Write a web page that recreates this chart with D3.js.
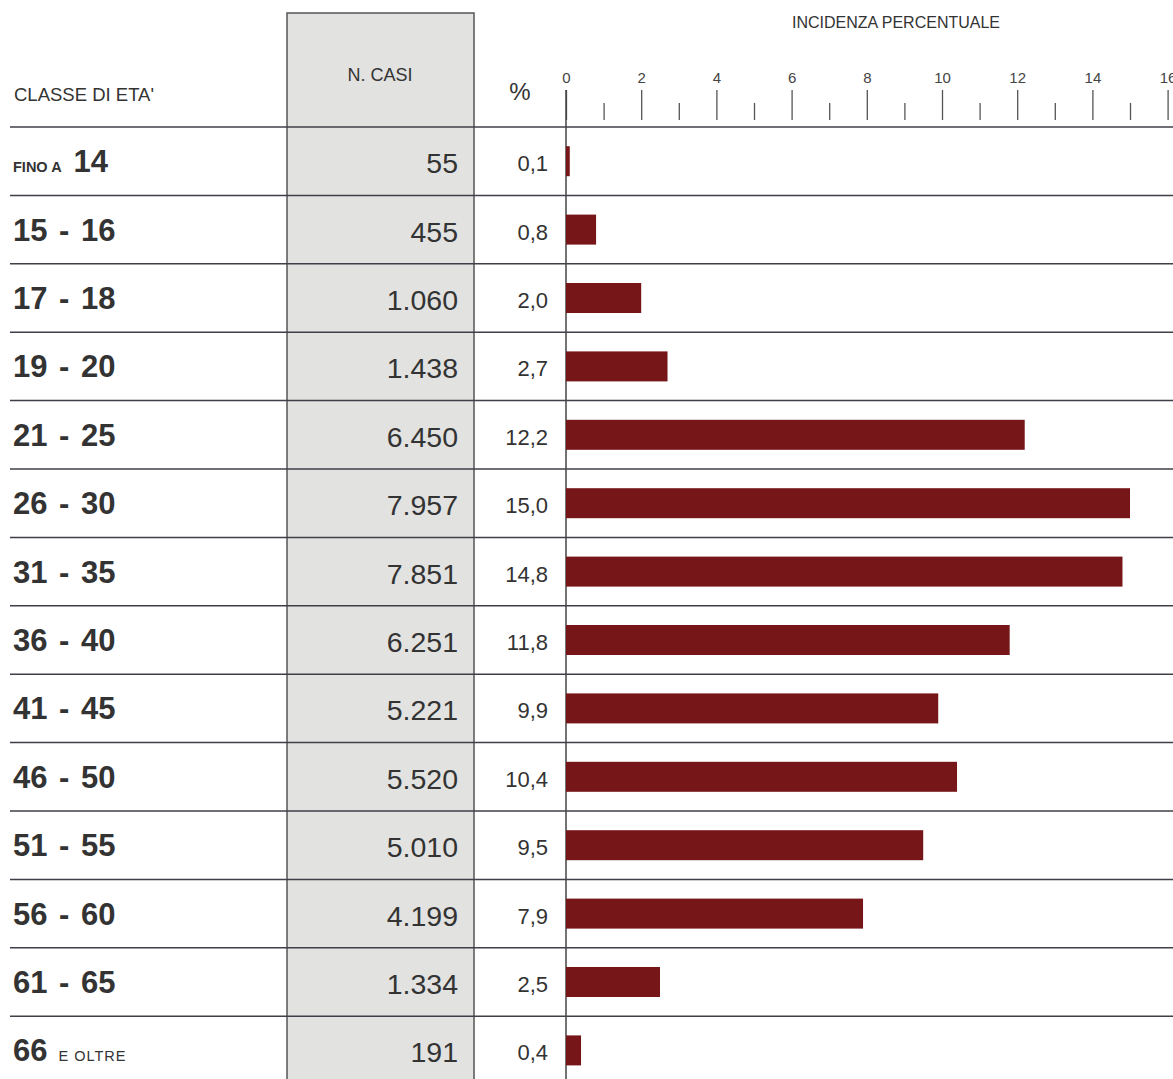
<!DOCTYPE html>
<html>
<head>
<meta charset="utf-8">
<script src="https://cdn.jsdelivr.net/npm/d3@7"></script>
<style>
  body { margin: 0; background: #fff; }
  svg { display: block; font-family: "Liberation Sans", Arial, sans-serif; }
</style>
</head>
<body>
<svg id="chart"></svg>
<script>
const width = 1173;
const height = 1079;

// age classes: [small prefix, big number, small suffix]
const ageLabels = [
    ['FINO A', '14', ''],
    ['', '15 - 16', ''],
    ['', '17 - 18', ''],
    ['', '19 - 20', ''],
    ['', '21 - 25', ''],
    ['', '26 - 30', ''],
    ['', '31 - 35', ''],
    ['', '36 - 40', ''],
    ['', '41 - 45', ''],
    ['', '46 - 50', ''],
    ['', '51 - 55', ''],
    ['', '56 - 60', ''],
    ['', '61 - 65', ''],
    ['', '66', 'E OLTRE']
];
const casi = [55, 455, 1060, 1438, 6450, 7957, 7851, 6251, 5221, 5520, 5010, 4199, 1334, 191];
const percent = [0.1, 0.8, 2.0, 2.7, 12.2, 15.0, 14.8, 11.8, 9.9, 10.4, 9.5, 7.9, 2.5, 0.4];
const majorTicks = [0, 2, 4, 6, 8, 10, 12, 14, 16];
const minorTicks = [1, 3, 5, 7, 9, 11, 13, 15];

const rows = ageLabels.map((l, i) => ({ label: l, casi: casi[i], pct: percent[i] }));

const svg = d3.select('#chart')
    .attr('width', width)
    .attr('height', height);

const headerY = 127;
const rowH = 68.4;

const x = d3.scaleLinear().domain([0, 16]).range([566, 566 + 16 * 37.6]);
const y = d3.scaleBand()
    .domain(d3.range(rows.length))
    .range([headerY, headerY + rowH * rows.length]);

const itFmt = d3.formatLocale({ decimal: ',', thousands: '.', grouping: [3], currency: ['', '€'] });
const fmtCasi = itFmt.format(',d');
const fmtPct = itFmt.format('.1f');

const ink = '#333';
const lineCol = '#3f3f48';

// gray column
svg.append('rect')
    .attr('x', 287).attr('y', 13)
    .attr('width', 187).attr('height', height)
    .attr('fill', '#e2e2e0')
    .attr('stroke', '#555').attr('stroke-width', 1.5);

// header texts
svg.append('text').attr('x', 14).attr('y', 101)
    .attr('font-size', 18.5).attr('fill', ink).text("CLASSE DI ETA'");
svg.append('text').attr('x', 380).attr('y', 81)
    .attr('text-anchor', 'middle').attr('font-size', 18).attr('fill', ink).text('N. CASI');
svg.append('text').attr('x', 520).attr('y', 100)
    .attr('text-anchor', 'middle').attr('font-size', 24).attr('fill', ink).text('%');
svg.append('text').attr('x', 896).attr('y', 28)
    .attr('text-anchor', 'middle').attr('font-size', 16).attr('fill', ink).text('INCIDENZA PERCENTUALE');

// axis ticks
const major = svg.append('g')
    .attr('transform', 'translate(0,120)')
    .call(d3.axisTop(x).tickValues(majorTicks).tickSize(30).tickPadding(7));
const minor = svg.append('g')
    .attr('transform', 'translate(0,120)')
    .call(d3.axisTop(x).tickValues(minorTicks).tickSize(17).tickFormat(''));
[major, minor].forEach(g => {
    g.select('.domain').remove();
    g.selectAll('line').attr('stroke', '#555').attr('stroke-width', 1.3);
    g.selectAll('text')
        .style('font-size', '15px')
        .style('font-family', '"Liberation Sans", Arial, sans-serif')
        .attr('fill', '#444');
});

// horizontal row lines
svg.append('g').selectAll('line')
    .data(d3.range(rows.length))
    .enter().append('line')
    .attr('x1', 10).attr('x2', width)
    .attr('y1', d => y(d)).attr('y2', d => y(d))
    .attr('stroke', lineCol).attr('stroke-width', 1.5);

// vertical zero line
svg.append('line')
    .attr('x1', x(0)).attr('x2', x(0))
    .attr('y1', 90).attr('y2', height)
    .attr('stroke', '#444').attr('stroke-width', 1.5);

// bars
svg.append('g').selectAll('rect')
    .data(rows)
    .enter().append('rect')
    .attr('x', x(0))
    .attr('y', (d, i) => y(i) + y.bandwidth() / 2 - 15)
    .attr('width', d => x(d.pct) - x(0))
    .attr('height', 30)
    .attr('fill', '#761619');

// row texts
const row = svg.append('g').selectAll('g')
    .data(rows)
    .enter().append('g')
    .attr('transform', (d, i) => `translate(0, ${y(i) + y.bandwidth() / 2})`);

const lab = row.append('text')
    .attr('x', 13).attr('y', 11)
    .attr('fill', ink).attr('font-weight', 'bold');
lab.append('tspan').attr('font-size', 14.5).text(d => d.label[0]);
lab.append('tspan').attr('font-size', 31).attr('word-spacing', 3)
    .attr('dx', d => d.label[0] ? 12 : 0).text(d => d.label[1]);
lab.append('tspan').attr('font-size', 14.5).attr('font-weight', 'normal')
    .attr('dx', d => d.label[2] ? 11 : 0)
    .attr('letter-spacing', 1).text(d => d.label[2]);

row.append('text')
    .attr('x', 458).attr('y', 12)
    .attr('text-anchor', 'end').attr('font-size', 28.5).attr('fill', ink)
    .text(d => fmtCasi(d.casi));

row.append('text')
    .attr('x', 548).attr('y', 10)
    .attr('text-anchor', 'end').attr('font-size', 22).attr('fill', ink)
    .text(d => fmtPct(d.pct));
</script>
</body>
</html>
